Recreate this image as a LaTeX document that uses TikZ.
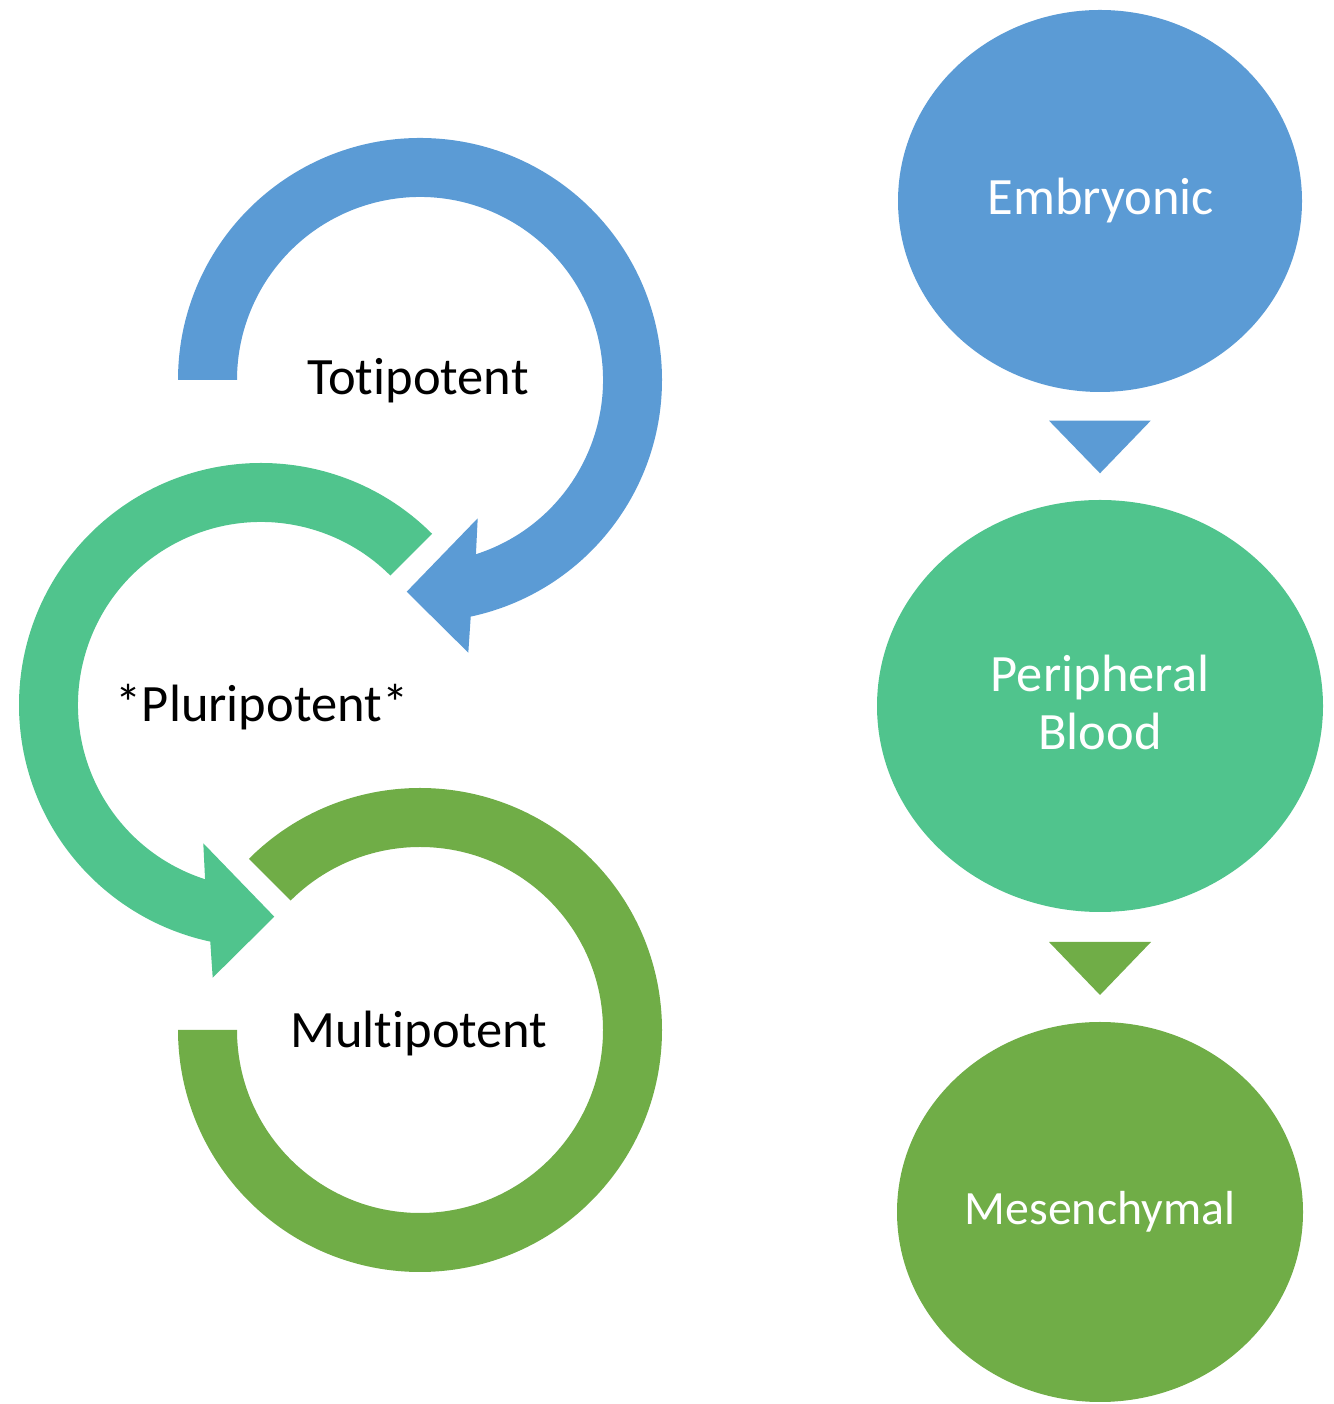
\documentclass[tikz,border=0pt]{standalone}
\usepackage{fontspec}
\setmainfont{Carlito}[Ligatures={NoCommon,NoContextual}]
\usetikzlibrary{calc,shapes.geometric}
\definecolor{cblue}{RGB}{91,155,213}
\definecolor{cteal}{RGB}{80,196,141}
\definecolor{colive}{RGB}{112,173,71}
\tikzset{
  lbl/.style={anchor=base, inner sep=0pt, font=\fontsize{52.5}{58}\selectfont, text=black},
  wlbl/.style={anchor=base, inner sep=0pt, font=\fontsize{52.5}{58}\selectfont, text=white},
  bubble/.style={ellipse, inner sep=0pt},
}
\begin{document}
\begin{tikzpicture}[x=1pt,y=1pt]
\useasboundingbox (0,0) rectangle (1333,1404);
% centres of the circular arrows
\coordinate (C1) at (420,1024);
\coordinate (C2) at (261,699);
\coordinate (C3) at (420,374);
% blue arrow (Totipotent)
\fill[cblue] ($(C1)+(180:242)$) arc[start angle=180, end angle=-77.9, radius=242]
  -- ($(C1)+(48.3,-272.7)$) -- ($(C1)+(-13.3,-211.7)$) -- ($(C1)+(57.7,-138.3)$)
  -- ($(C1)+(-72.2:183)$) arc[start angle=-72.2, end angle=180, radius=183] -- cycle;
% teal arrow (Pluripotent)
\fill[cteal] ($(C2)+(45:242)$) arc[start angle=45, end angle=257.9, radius=242]
  -- ($(C2)+(-48.3,-272.7)$) -- ($(C2)+(13.3,-211.7)$) -- ($(C2)+(-57.7,-138.3)$)
  -- ($(C2)+(252.2:183)$) arc[start angle=252.2, end angle=45, radius=183] -- cycle;
% olive arc (Multipotent)
\fill[colive] ($(C3)+(135:242)$) arc[start angle=135, end angle=-180, radius=242]
  -- ($(C3)+(180:183)$) arc[start angle=-180, end angle=135, radius=183] -- cycle;
% labels
\node[lbl] (toti) at (418,1009) {Totipotent};
\node[lbl] (pluri) at (262,682) {*Pluripotent*};
\node[lbl] (multi) at (419,356) {Multipotent};
% right column
\node[bubble, fill=cblue, minimum width=404, minimum height=382] (emb) at (1100,1203) {};
\node[bubble, fill=cteal, minimum width=446, minimum height=412] (per) at (1100,698) {};
\node[bubble, fill=colive, minimum width=406, minimum height=380] (mes) at (1100,192) {};
\fill[cblue] (1049,983.3) -- (1150.7,983.3) -- (1100,930.7) -- cycle;
\fill[colive] (1049,462) -- (1151,462) -- (1100,409) -- cycle;
\node[wlbl] (embt) at (1101,1189) {Embryonic};
\node[wlbl] (pert) at (1100,712.3) {Peripheral};
\node[wlbl] (blt) at (1100,654) {Blood};
\node[wlbl, font=\fontsize{47.8}{54}\selectfont] (mest) at (1100,179.7) {Mesenchymal};
\end{tikzpicture}
\end{document}
